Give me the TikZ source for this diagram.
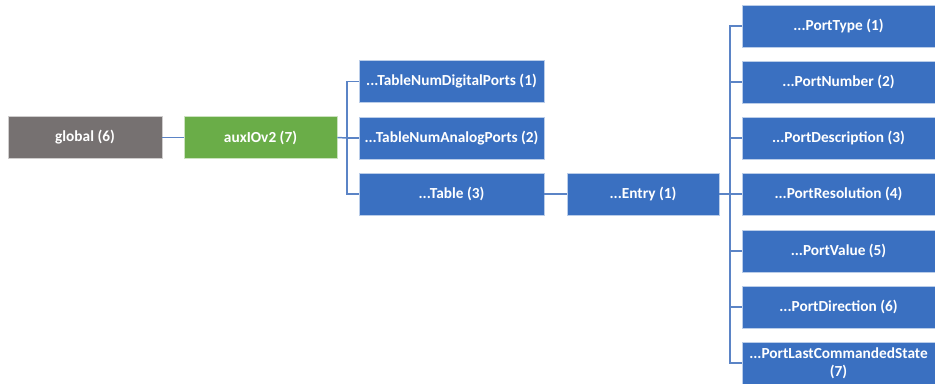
\documentclass[tikz,border=0pt]{standalone}
\usepackage{fontspec}
\setmainfont{Carlito}
\definecolor{boxblue}{HTML}{3A70C1}
\definecolor{linkblue}{HTML}{5B84C6}
\definecolor{boxgray}{HTML}{767171}
\definecolor{boxgreen}{HTML}{6AAD48}
\tikzset{
  box/.style={draw=white!65!#1, line width=0.6pt, fill=#1, text=white,
    font=\bfseries\fontsize{11.5}{13.5}\selectfont, align=center, inner sep=0pt,
    minimum height=31.5pt},
  link/.style={draw=linkblue, line width=1.1pt}
}
\begin{document}
\begin{tikzpicture}[x=0.75pt,y=-0.75pt]
\useasboundingbox (0,0) rectangle (935,383);
% left column
\node[box=boxgray, minimum width=115.5pt] (glob) at (85,137.5) {global (6)};
\node[box=boxgreen, minimum width=114.75pt] (aux) at (260.5,137.5) {auxIOv2 (7)};
% middle column
\node[box=boxblue, minimum width=138.75pt] (tnd) at (451.5,81.5) {...TableNumDigitalPorts (1)};
\node[box=boxblue, minimum width=138.75pt] (tna) at (451.5,138) {...TableNumAnalogPorts (2)};
\node[box=boxblue, minimum width=138.75pt] (tab) at (451.5,194) {...Table (3)};
\node[box=boxblue, minimum width=114pt] (ent) at (643,194) {...Entry (1)};
% right column
\node[box=boxblue, minimum width=144.75pt] (p1) at (838.5,26) {...PortType (1)};
\node[box=boxblue, minimum width=144.75pt] (p2) at (838.5,82) {...PortNumber (2)};
\node[box=boxblue, minimum width=144.75pt] (p3) at (838.5,138) {...PortDescription (3)};
\node[box=boxblue, minimum width=144.75pt] (p4) at (838.5,194) {...PortResolution (4)};
\node[box=boxblue, minimum width=144.75pt] (p5) at (838.5,251) {...PortValue (5)};
\node[box=boxblue, minimum width=144.75pt] (p6) at (838.5,307) {...PortDirection (6)};
\node[box=boxblue, minimum width=144.75pt] (p7) at (838.5,363) {...PortLastCommandedState\\(7)};
% connectors
\draw[link] (glob.east) -- (aux.west);
\coordinate (b1) at (347,138);
\draw[link] (aux.east) -- (b1);
\foreach \t in {tnd,tna,tab} \draw[link] (b1) |- (\t.west);
\draw[link] (tab.east) -- (ent.west);
\coordinate (b2) at (730,194);
\draw[link] (ent.east) -- (b2);
\foreach \p in {p1,p2,p3,p4,p5,p6,p7} \draw[link] (b2) |- (\p.west);
\end{tikzpicture}
\end{document}
